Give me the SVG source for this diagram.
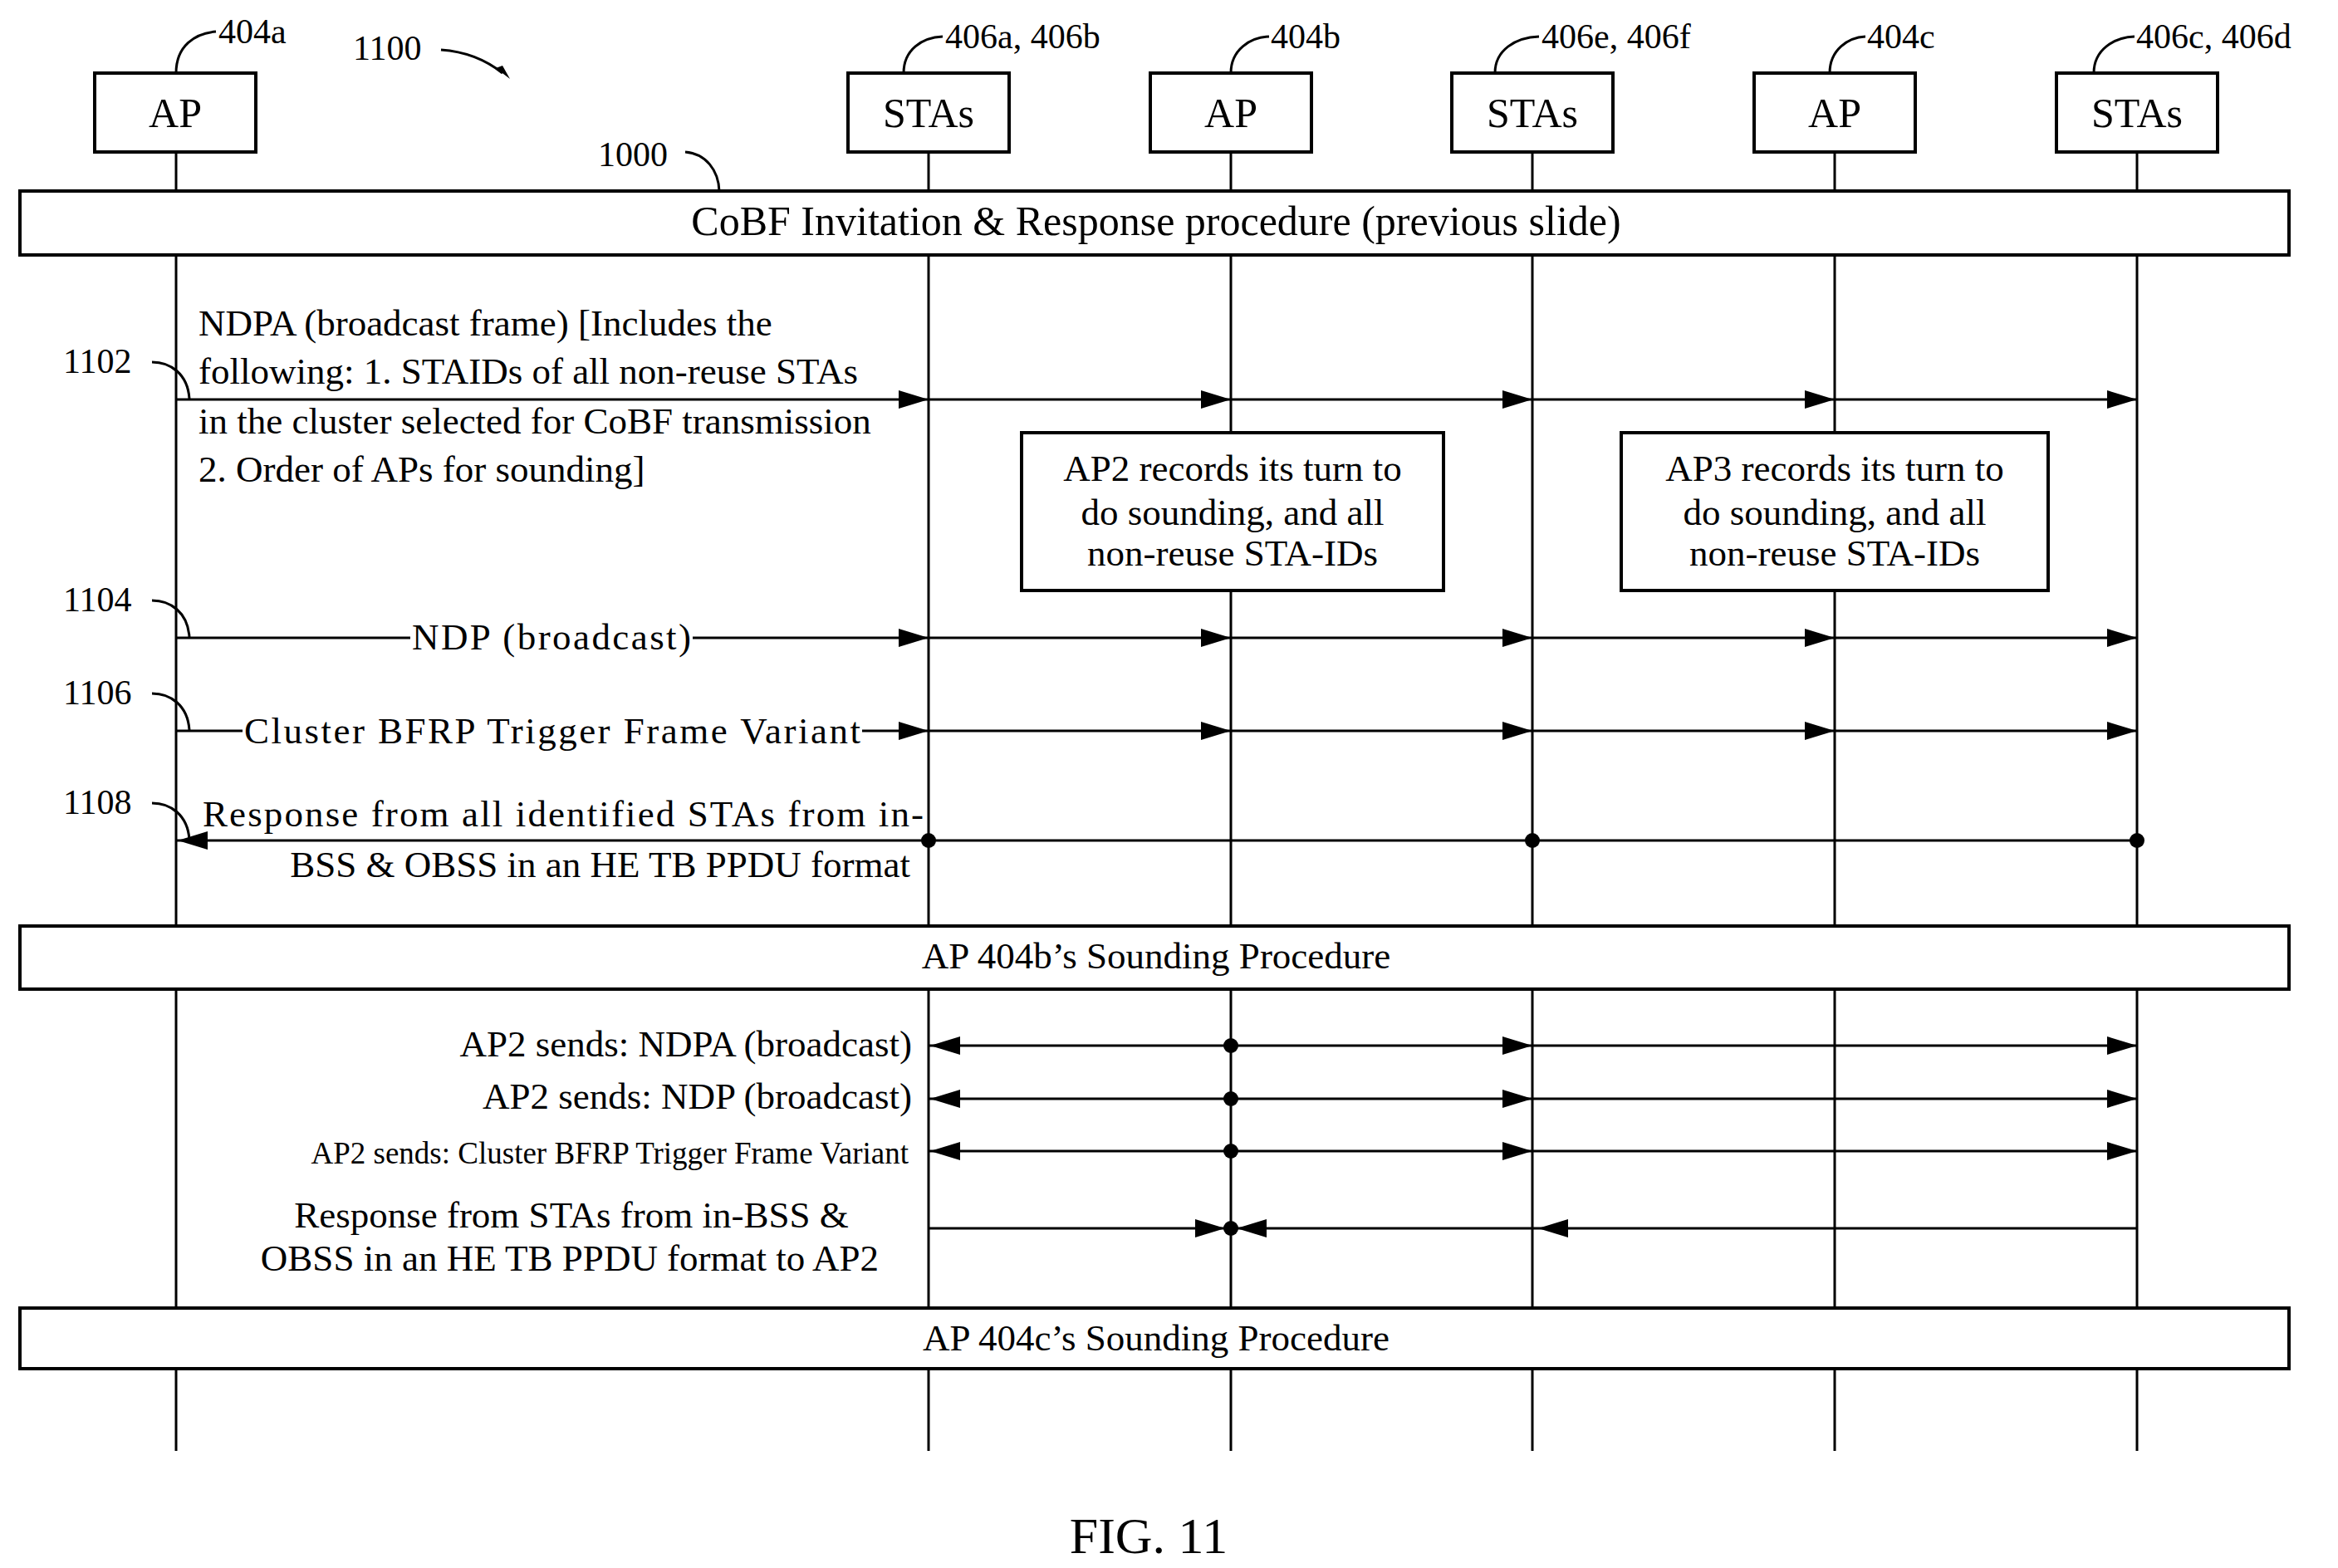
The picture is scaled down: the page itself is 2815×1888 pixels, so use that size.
<svg xmlns="http://www.w3.org/2000/svg" xmlns:xlink="http://www.w3.org/1999/xlink" width="2815" height="1888" viewBox="0 0 2815 1888">
<style>
text{font-family:"Liberation Serif","Times New Roman",serif;fill:#000}
.n{font-size:50px}
.r{font-size:42px}
.m{font-size:45px}
.box{fill:#fff;stroke:#000;stroke-width:4}
.ln{stroke:#000;stroke-width:3;fill:none}
.c{text-anchor:middle}
.e{text-anchor:end}
</style>
<defs>
<path id="aR" d="M0,0 L-36,-11 L-36,11 Z" fill="#000"/>
<path id="aL" d="M0,0 L36,-11 L36,11 Z" fill="#000"/>
</defs>
<g id="lifelines" class="ln">
<line x1="212" y1="183" x2="212" y2="1747"/>
<line x1="1118" y1="183" x2="1118" y2="1747"/>
<line x1="1482" y1="183" x2="1482" y2="1747"/>
<line x1="1845" y1="183" x2="1845" y2="1747"/>
<line x1="2209" y1="183" x2="2209" y2="1747"/>
<line x1="2573" y1="183" x2="2573" y2="1747"/>
</g>
<g id="n404a"><rect class="box" x="114" y="88" width="194" height="95"/><text class="n c" x="211" y="153">AP</text></g>
<g id="n406ab"><rect class="box" x="1021" y="88" width="194" height="95"/><text class="n c" x="1118" y="153">STAs</text></g>
<g id="n404b"><rect class="box" x="1385" y="88" width="194" height="95"/><text class="n c" x="1482" y="153">AP</text></g>
<g id="n406ef"><rect class="box" x="1748" y="88" width="194" height="95"/><text class="n c" x="1845" y="153">STAs</text></g>
<g id="n404c"><rect class="box" x="2112" y="88" width="194" height="95"/><text class="n c" x="2209" y="153">AP</text></g>
<g id="n406cd"><rect class="box" x="2476" y="88" width="194" height="95"/><text class="n c" x="2573" y="153">STAs</text></g>
<g id="refs">
<text class="r" x="263" y="52">404a</text>
<text class="r" x="1138" y="58">406a, 406b</text>
<text class="r" x="1530" y="58">404b</text>
<text class="r" x="1856" y="58">406e, 406f</text>
<text class="r" x="2248" y="58">404c</text>
<text class="r" x="2572" y="58">406c, 406d</text>
<text class="r" x="425" y="72">1100</text>
<text class="r" x="720" y="200">1000</text>
<text class="r" x="76" y="449">1102</text>
<text class="r" x="76" y="736">1104</text>
<text class="r" x="76" y="848">1106</text>
<text class="r" x="76" y="980">1108</text>
</g>
<g id="leaders" class="ln">
<path d="M212,88 C212,55 235,40 260,38"/>
<path d="M1088,88 C1088,60 1110,45 1135,44"/>
<path d="M1482,88 C1482,60 1505,45 1528,44"/>
<path d="M1800,88 C1800,60 1825,45 1853,44"/>
<path d="M2203,88 C2203,60 2225,45 2246,44"/>
<path d="M2521,88 C2521,60 2545,45 2570,44"/>
<path d="M531,60 C560,62 585,72 605,88"/>
<path d="M825,183 C850,185 865,205 866,230"/>
<path d="M183,436 C205,436 226,450 228,480"/>
<path d="M183,723 C205,723 226,737 228,767"/>
<path d="M183,835 C205,835 226,849 228,879"/>
<path d="M183,967 C205,967 226,981 228,1011"/>
</g>
<path d="M614,95 L597,82 L605,79 Z" fill="#000"/>
<g id="procedures">
<g id="cobf"><rect class="box" x="24" y="230" width="2732" height="77"/><text class="n c" x="1392" y="283">CoBF Invitation &amp; Response procedure (previous slide)</text></g>
<g id="snd404b"><rect class="box" x="24" y="1115" width="2732" height="76"/><text class="m c" x="1392" y="1166">AP 404b’s Sounding Procedure</text></g>
<g id="snd404c"><rect class="box" x="24" y="1575" width="2732" height="73"/><text class="m c" x="1392" y="1626">AP 404c’s Sounding Procedure</text></g>
</g>
<g id="notes">
<g id="ap2note"><rect class="box" x="1230" y="521" width="508" height="190"/>
<text class="m c" x="1484" y="579">AP2 records its turn to</text>
<text class="m c" x="1484" y="632">do sounding, and all</text>
<text class="m c" x="1484" y="681">non-reuse STA-IDs</text></g>
<g id="ap3note"><rect class="box" x="1952" y="521" width="514" height="190"/>
<text class="m c" x="2209" y="579">AP3 records its turn to</text>
<text class="m c" x="2209" y="632">do sounding, and all</text>
<text class="m c" x="2209" y="681">non-reuse STA-IDs</text></g>
</g>
<g id="connectors">
<g class="ln">
<line x1="212" y1="481" x2="2573" y2="481"/>
<line x1="212" y1="768" x2="494" y2="768"/><line x1="834" y1="768" x2="2573" y2="768"/>
<line x1="212" y1="880" x2="292" y2="880"/><line x1="1038" y1="880" x2="2573" y2="880"/>
<line x1="212" y1="1012" x2="2573" y2="1012"/>
<line x1="1118" y1="1259" x2="2573" y2="1259"/>
<line x1="1118" y1="1323" x2="2573" y2="1323"/>
<line x1="1118" y1="1386" x2="2573" y2="1386"/>
<line x1="1118" y1="1479" x2="2573" y2="1479"/>
</g>
<use xlink:href="#aR" x="1118" y="481"/><use xlink:href="#aR" x="1482" y="481"/><use xlink:href="#aR" x="1845" y="481"/><use xlink:href="#aR" x="2209" y="481"/><use xlink:href="#aR" x="2573" y="481"/>
<use xlink:href="#aR" x="1118" y="768"/><use xlink:href="#aR" x="1482" y="768"/><use xlink:href="#aR" x="1845" y="768"/><use xlink:href="#aR" x="2209" y="768"/><use xlink:href="#aR" x="2573" y="768"/>
<use xlink:href="#aR" x="1118" y="880"/><use xlink:href="#aR" x="1482" y="880"/><use xlink:href="#aR" x="1845" y="880"/><use xlink:href="#aR" x="2209" y="880"/><use xlink:href="#aR" x="2573" y="880"/>
<use xlink:href="#aL" x="214" y="1012"/>
<circle cx="1118" cy="1012" r="9"/><circle cx="1845" cy="1012" r="9"/><circle cx="2573" cy="1012" r="9"/>
<use xlink:href="#aL" x="1120" y="1259"/><circle cx="1482" cy="1259" r="9"/><use xlink:href="#aR" x="1845" y="1259"/><use xlink:href="#aR" x="2573" y="1259"/>
<use xlink:href="#aL" x="1120" y="1323"/><circle cx="1482" cy="1323" r="9"/><use xlink:href="#aR" x="1845" y="1323"/><use xlink:href="#aR" x="2573" y="1323"/>
<use xlink:href="#aL" x="1120" y="1386"/><circle cx="1482" cy="1386" r="9"/><use xlink:href="#aR" x="1845" y="1386"/><use xlink:href="#aR" x="2573" y="1386"/>
<use xlink:href="#aR" x="1475" y="1479"/><circle cx="1482" cy="1479" r="9"/><use xlink:href="#aL" x="1489" y="1479"/><use xlink:href="#aL" x="1852" y="1479"/>
</g>
<g id="labels">
<text class="m" x="239" y="404">NDPA (broadcast frame) [Includes the</text>
<text class="m" x="239" y="462">following: 1. STAIDs of all non-reuse STAs</text>
<text class="m" x="239" y="522">in the cluster selected for CoBF transmission</text>
<text class="m" x="239" y="580">2. Order of APs for sounding]</text>
<text class="m" x="496" y="782" textLength="336">NDP (broadcast)</text>
<text class="m" x="294" y="895" textLength="742">Cluster BFRP Trigger Frame Variant</text>
<text class="m" x="244" y="995" textLength="868">Response from all identified STAs from in-</text>
<text class="m e" x="1096" y="1056">BSS &amp; OBSS in an HE TB PPDU format</text>
<text class="m e" x="1098" y="1272">AP2 sends: NDPA (broadcast)</text>
<text class="m e" x="1098" y="1335">AP2 sends: NDP (broadcast)</text>
<text class="e" style="font-size:37px" x="1094" y="1401">AP2 sends: Cluster BFRP Trigger Frame Variant</text>
<text class="m c" x="688" y="1478">Response from STAs from in-BSS &amp;</text>
<text class="m c" x="686" y="1530">OBSS in an HE TB PPDU format to AP2</text>
<text class="c" style="font-size:62px" x="1383" y="1870">FIG. 11</text>
</g>
</svg>
